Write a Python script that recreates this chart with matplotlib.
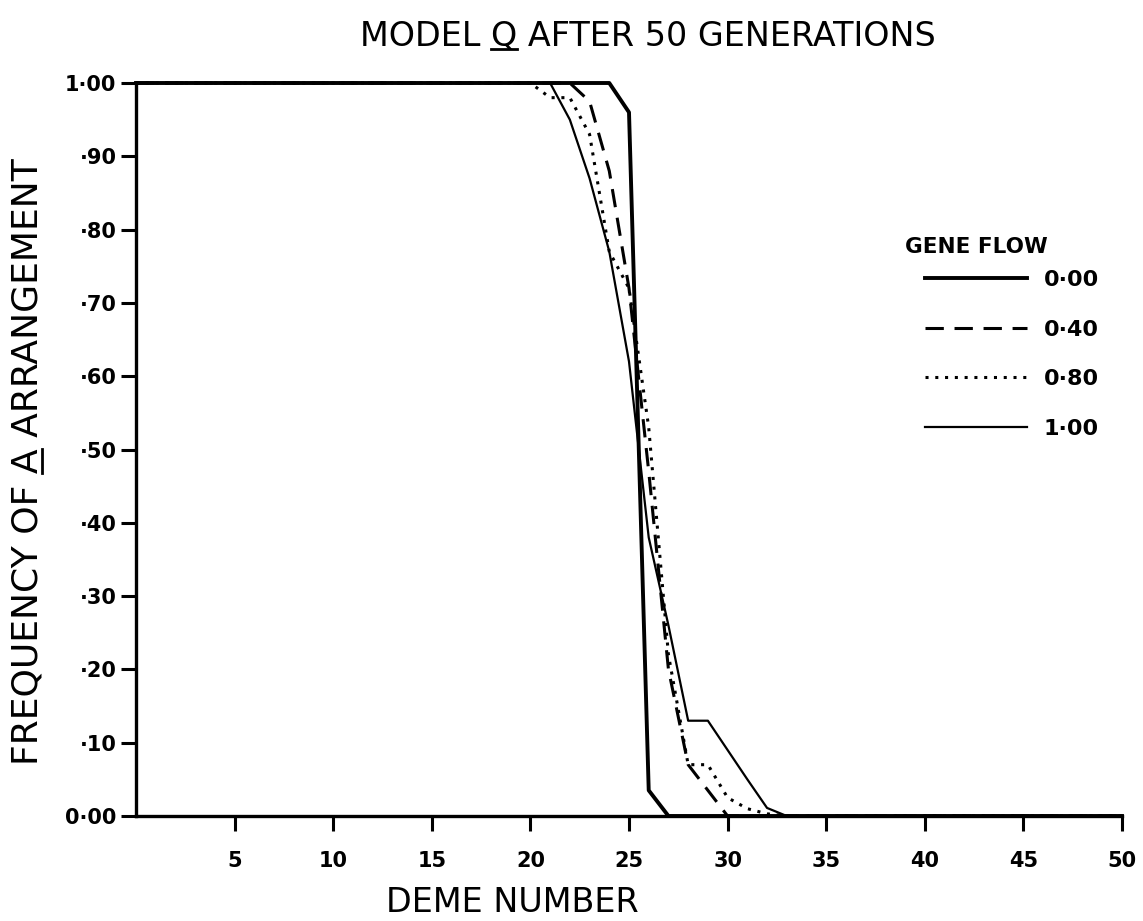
import matplotlib
matplotlib.use("Agg")
import matplotlib.pyplot as plt
from matplotlib.lines import Line2D
import numpy as np

# deme positions and frequency of the A arrangement for each gene-flow rate
demes = np.arange(0, 51)
gf_000 = [1.0] * 25 + [0.96, 0.035] + [0.0] * 24
gf_040 = [1.0] * 23 + [0.975, 0.88, 0.72, 0.47, 0.20, 0.07, 0.035] + [0.0] * 21
gf_080 = [1.0] * 21 + [0.98, 0.98, 0.93, 0.77, 0.72, 0.53, 0.22, 0.07, 0.07,
                       0.025, 0.01, 0.003] + [0.0] * 18
gf_100 = [1.0] * 22 + [0.95, 0.87, 0.77, 0.62, 0.38, 0.26, 0.13, 0.13, 0.09,
                       0.05, 0.011] + [0.0] * 18

flow_labels = ["0·00", "0·40", "0·80", "1·00"]
x_ticks = [5, 10, 15, 20, 25, 30, 35, 40, 45, 50]
y_ticks = [0.0, 0.1, 0.2, 0.3, 0.4, 0.5, 0.6, 0.7, 0.8, 0.9, 1.0]
y_tick_labels = ["0·00", "·10", "·20", "·30", "·40", "·50", "·60", "·70",
                 "·80", "·90", "1·00"]

plt.rcParams["font.family"] = ["DejaVu Sans"]

W, H = 1143, 921
fig = plt.figure(figsize=(W / 100, H / 100), dpi=100)
ax = fig.add_axes([136 / W, 1 - 816 / H, (1122 - 136) / W, (816 - 83) / H])

styles = [
    dict(lw=2.8, ls="-"),
    dict(lw=2.2, ls=(0, (6, 3.5))),
    dict(lw=2.2, ls=(0, (1, 2.2))),
    dict(lw=1.6, ls="-"),
]
for vals, lab, st in zip([gf_000, gf_040, gf_080, gf_100], flow_labels, styles):
    ax.plot(demes, vals, color="black", label=lab, clip_on=False, **st)

ax.set_xlim(0, 50)
ax.set_ylim(0, 1)
for side in ["top", "right"]:
    ax.spines[side].set_visible(False)
for side in ["left", "bottom"]:
    ax.spines[side].set_linewidth(2.4)

ax.set_xticks(x_ticks)
ax.set_xticklabels([str(t) for t in x_ticks])
ax.set_yticks(y_ticks)
ax.set_yticklabels(y_tick_labels)
ax.tick_params(axis="x", length=11, width=2.2, pad=14, labelsize=15)
ax.tick_params(axis="y", length=11, width=2.2, pad=3, labelsize=15)
for t in ax.get_xticklabels() + ax.get_yticklabels():
    t.set_fontweight("bold")

title = fig.text(648 / W, 1 - 36 / H, "MODEL Q AFTER 50 GENERATIONS",
                 ha="center", va="center", fontsize=24)
ylab = fig.text(28 / W, 1 - 462 / H, "FREQUENCY OF A ARRANGEMENT",
                ha="center", va="center", rotation=90, fontsize=26)
fig.text(512 / W, 1 - 902 / H, "DEME NUMBER", ha="center", va="center",
         fontsize=24)

fig.text(905 / W, 1 - 247 / H, "GENE FLOW", ha="left", va="center",
         fontsize=15.5, fontweight="bold")
leg = ax.legend(loc="upper left", bbox_to_anchor=(925 / W, 1 - 270 / H),
                bbox_transform=fig.transFigure, frameon=False, borderpad=0,
                borderaxespad=0, handlelength=4.6, handletextpad=0.75,
                labelspacing=1.33, prop=dict(size=16, weight="bold"))


# underline one letter of a text (mathtext has no \underline)
renderer = fig.canvas.get_renderer()


def text_width(s, size):
    tmp = fig.text(0, 0, s, fontsize=size)
    w = tmp.get_window_extent(renderer).width
    tmp.remove()
    return w


def underline(txt, prefix, letter, vertical=False):
    size = txt.get_fontsize()
    bb = txt.get_window_extent(renderer)
    a = text_width(prefix + "|", size) - text_width("|", size)
    b = text_width(prefix + letter + "|", size) - text_width("|", size)
    if vertical:
        x = bb.x1 - 3
        xs, ys = [x, x], [bb.y0 + a, bb.y0 + b]
    else:
        y = bb.y0 + 3
        xs, ys = [bb.x0 + a, bb.x0 + b], [y, y]
    fig.add_artist(Line2D([v / W for v in xs], [v / H for v in ys],
                          transform=fig.transFigure, color="black", lw=2))


underline(title, "MODEL ", "Q")
underline(ylab, "FREQUENCY OF ", "A", vertical=True)

fig.savefig("out.png", dpi=100)
